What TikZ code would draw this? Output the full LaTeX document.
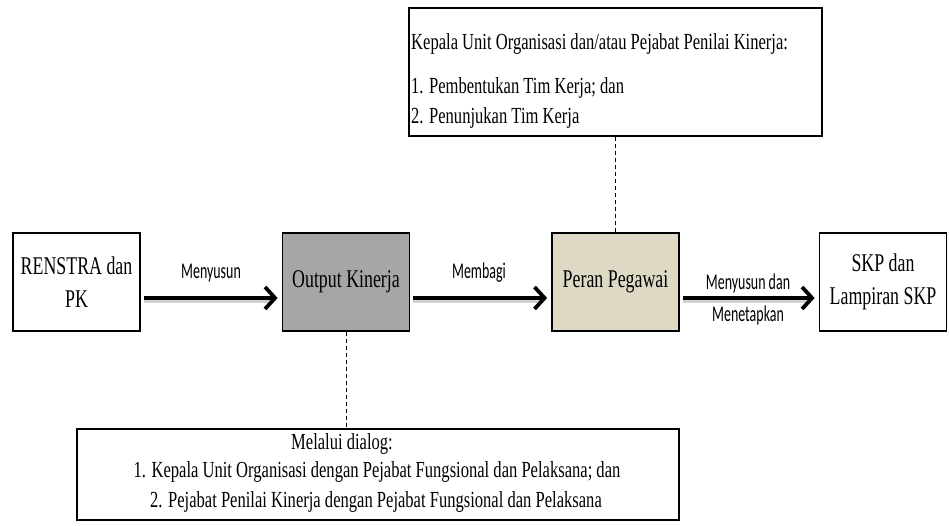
\documentclass[tikz,border=0pt]{standalone}
\usepackage{fontspec}
\setmainfont{Liberation Serif}[FakeStretch=0.72]
\newfontfamily\boxfont{Liberation Serif}[FakeStretch=0.70]
\newfontfamily\lblfont{Carlito}[FakeStretch=0.62]
\usetikzlibrary{arrows.meta}

\definecolor{outfill}{HTML}{A6A6A6}
\definecolor{peranfill}{HTML}{DDD9C4}

\tikzset{
  box/.style={draw=black, line width=1.8pt, fill=white, rectangle,
    minimum width=127pt, minimum height=98pt, inner sep=0pt,
    align=center, font=\boxfont\fontsize{25.5}{33}\selectfont},
  notebox/.style={draw=black, line width=1.8pt, fill=white, inner sep=0pt, anchor=north west},
  flow/.style={line width=4pt, -{Straight Barb[length=10pt,width=22pt,line width=3.8pt]}},
  flowshadow/.style={line width=4pt, draw=black!30, opacity=0.6},
  lbl/.style={font=\lblfont\fontsize{22.5}{26}\selectfont, inner sep=0pt},
  boxtext/.style={font=\fontsize{23}{29}\selectfont, inner sep=0pt},
  link/.style={line width=0.9pt, dash pattern=on 4pt off 3pt},
}

\begin{document}
\begin{tikzpicture}[x=1pt, y=-1pt]
  \useasboundingbox (0,0) rectangle (949,525);

  % main row of boxes
  \node[box] (ren) at (76.5,282) {RENSTRA dan\\PK};
  \node[box, fill=outfill] (out) at (346,282) {Output Kinerja};
  \node[box, fill=peranfill] (per) at (615.5,282) {Peran Pegawai};
  \node[box] (skp) at (883,282) {SKP dan\\Lampiran SKP};

  % upper note box
  \node[notebox, minimum width=413pt, minimum height=128pt] (top) at (408,7) {};
  \node[boxtext, anchor=west] (t1) at (411,44) {Kepala Unit Organisasi dan/atau Pejabat Penilai Kinerja:};
  \node[boxtext, anchor=west] (t2) at (411,88) {1. Pembentukan Tim Kerja; dan};
  \node[boxtext, anchor=west] (t3) at (411,118) {2. Penunjukan Tim Kerja};

  % lower note box
  \node[notebox, minimum width=602pt, minimum height=91pt] (bot) at (76,428) {};
  \node[boxtext] (b1) at (342,444) {Melalui dialog:};
  \node[boxtext] (b2) at (377,472) {1. Kepala Unit Organisasi dengan Pejabat Fungsional dan Pelaksana; dan};
  \node[boxtext] (b3) at (376,502) {2. Pejabat Penilai Kinerja dengan Pejabat Fungsional dan Pelaksana};

  % dashed links to the note boxes
  \draw[link] (out.south) -- (out.south |- bot.north);
  \draw[link] (per.north) -- (per.north |- top.south);

  % soft shadows under the flow arrows
  \draw[flowshadow] ([xshift=3pt,yshift=-19pt]ren.east) -- ([xshift=-9pt,yshift=-19pt]out.west);
  \draw[flowshadow] ([xshift=3pt,yshift=-19pt]out.east) -- ([xshift=-9pt,yshift=-19pt]per.west);
  \draw[flowshadow] ([xshift=3pt,yshift=-19pt]per.east) -- ([xshift=-9pt,yshift=-19pt]skp.west);

  % flow arrows
  \draw[flow] ([xshift=3pt,yshift=-16pt]ren.east) -- ([xshift=-4pt,yshift=-16pt]out.west);
  \draw[flow] ([xshift=3pt,yshift=-16pt]out.east) -- ([xshift=-4pt,yshift=-16pt]per.west);
  \draw[flow] ([xshift=3pt,yshift=-16pt]per.east) -- ([xshift=-4pt,yshift=-16pt]skp.west);

  % arrow labels
  \node[lbl] (l1) at (211,273) {Menyusun};
  \node[lbl] (l2) at (479,273) {Membagi};
  \node[lbl] (l3) at (748,283) {Menyusun dan};
  \node[lbl] (l4) at (748,315) {Menetapkan};
\end{tikzpicture}
\end{document}
